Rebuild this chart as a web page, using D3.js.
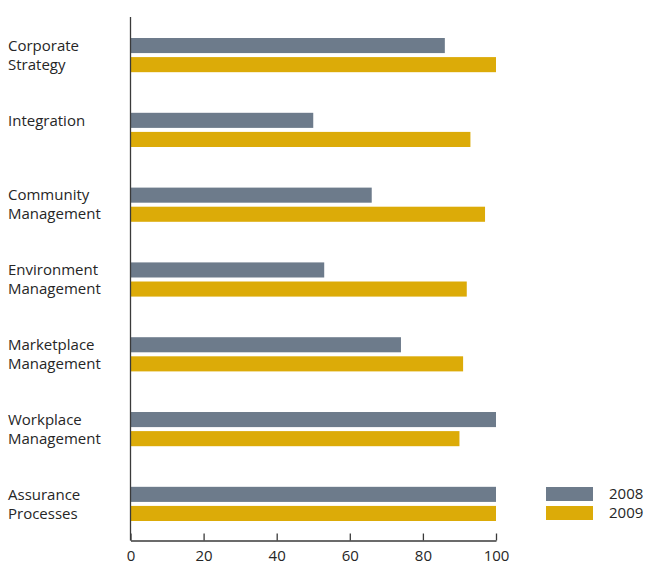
<!DOCTYPE html>
<html>
<head>
<meta charset="utf-8">
<script src="https://cdn.jsdelivr.net/npm/d3@7"></script>
<style>
  body { margin: 0; background: #fff; }
  text { font-family: "Open Sans", sans-serif; fill: #262626; }
</style>
</head>
<body>
<svg id="chart" width="647" height="568"></svg>
<script>
// data
const categories = [
    ["Corporate", "Strategy"],
    ["Integration"],
    ["Community", "Management"],
    ["Environment", "Management"],
    ["Marketplace", "Management"],
    ["Workplace", "Management"],
    ["Assurance", "Processes"]
];
const years = ["2008", "2009"];
const values2008 = [86, 50, 66, 53, 74, 100, 100];
const values2009 = [100, 93, 97, 92, 91, 90, 100];
const xTicks = [0, 20, 40, 60, 80, 100];

const colors = { "2008": "#6d7b8b", "2009": "#dcab08" };

const svg = d3.select("#chart");
const catKeys = categories.map(c => c.join(" "));

const x = d3.scaleLinear().domain([0, 100]).range([130.5, 496]);
const y = d3.scaleBand().domain(catKeys).range([38, 521]).paddingInner(0.543).paddingOuter(0);
const ySub = d3.scaleBand().domain(years).range([0, y.bandwidth()]).paddingInner(0.21);

const rows = catKeys.map((k, i) => ({ key: k, lines: categories[i], "2008": values2008[i], "2009": values2009[i] }));

// bars
const groups = svg.selectAll("g.cat")
    .data(rows)
    .enter().append("g")
    .attr("class", "cat")
    .attr("transform", d => `translate(0,${y(d.key)})`);

groups.selectAll("rect")
    .data(d => years.map(yr => ({ yr, v: d[yr] })))
    .enter().append("rect")
    .attr("x", x(0) + 0.5)
    .attr("y", d => ySub(d.yr))
    .attr("width", d => x(d.v) - x(0) - 0.5)
    .attr("height", ySub.bandwidth())
    .attr("fill", d => colors[d.yr]);

// category labels
groups.append("text")
    .attr("x", 8)
    .attr("font-size", 15)
    .selectAll("tspan")
    .data(d => d.lines)
    .enter().append("tspan")
    .attr("x", 8)
    .attr("y", (d, i) => ySub(years[i]) + ySub.bandwidth() / 2)
    .attr("dy", "0.35em")
    .text(d => d);

// axes
const axisY = 540.5;
svg.append("line")
    .attr("x1", x(0)).attr("x2", x(0))
    .attr("y1", 17).attr("y2", axisY)
    .attr("stroke", "#3a3a3a").attr("stroke-width", 1.3);

const xAxisG = svg.append("g")
    .attr("transform", `translate(0,${axisY})`)
    .call(d3.axisBottom(x).tickValues(xTicks).tickSizeInner(-7).tickSizeOuter(0).tickPadding(10));
xAxisG.select(".domain").attr("stroke", "#3a3a3a").attr("stroke-width", 1.3);
xAxisG.selectAll(".tick line").attr("stroke", "#3a3a3a").attr("stroke-width", 1.3);
xAxisG.selectAll(".tick text")
    .attr("font-family", "Open Sans, sans-serif")
    .attr("font-size", 15)
    .attr("fill", "#262626");

// legend
const legend = svg.append("g").attr("transform", "translate(546,487)");
years.forEach((yr, i) => {
    legend.append("rect")
        .attr("x", 0).attr("y", i * 19)
        .attr("width", 47).attr("height", 14)
        .attr("fill", colors[yr]);
    legend.append("text")
        .attr("x", 63).attr("y", i * 19 + 7)
        .attr("dy", "0.35em")
        .attr("font-size", 15)
        .text(yr);
});
</script>
</body>
</html>
